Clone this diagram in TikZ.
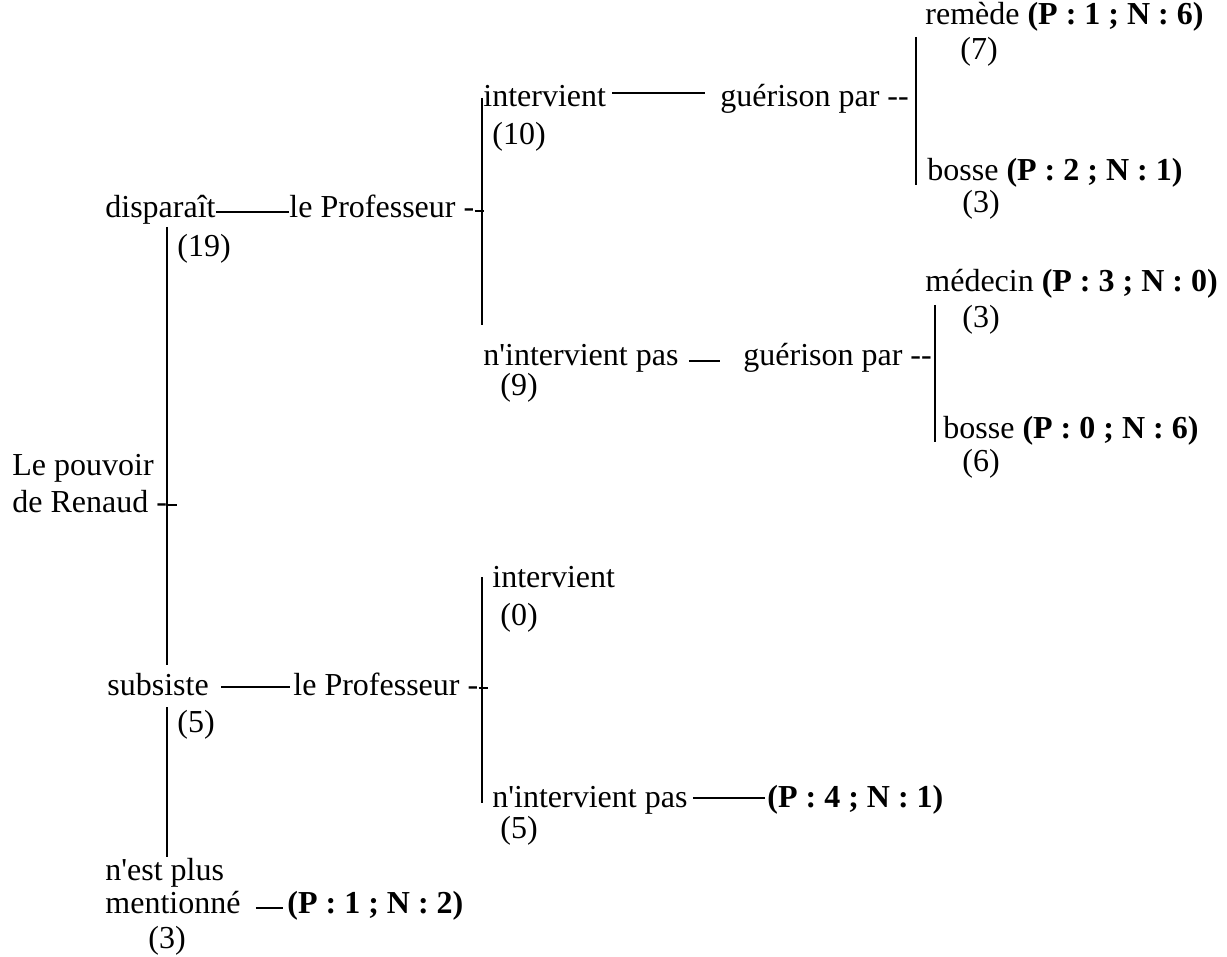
\documentclass[tikz,border=0pt]{standalone}
\usepackage{fontspec}
\setmainfont{Liberation Serif}[Ligatures=TeXOff]
\usetikzlibrary{calc}

\begin{document}
\begin{tikzpicture}[x=0.5pt,y=-0.5pt,lbl/.style={anchor=base west,inner sep=0pt,font=\fontsize{16}{18}\selectfont},br/.style={line width=1.4pt}]
	\useasboundingbox (0,0) rectangle (1227,957);
	\node[lbl] (LP1) at (12,475) {Le pouvoir};
	\node[lbl] (LP2) at (12,512) {de Renaud -};
	\node[lbl] (dis) at (105,218) {disparaît};
	\node[lbl] (C19) at (177,257) {(19)};
	\node[lbl] (prof1) at (289,218) {le Professeur -};
	\node[lbl] (int1) at (483,107) {intervient};
	\node[lbl] (C10) at (492,145) {(10)};
	\node[lbl] (gue1) at (720,107) {guérison par --};
	\node[lbl] (rem) at (925,25) {remède \textbf{(P : 1 ; N : 6)}};
	\node[lbl] (C7) at (960,60) {(7)};
	\node[lbl] (bos1) at (927,181) {bosse \textbf{(P : 2 ; N : 1)}};
	\node[lbl] (C3a) at (962,213) {(3)};
	\node[lbl] (nint1) at (483,365) {n'intervient pas};
	\node[lbl] (C9) at (500,395) {(9)};
	\node[lbl] (gue2) at (743,365) {guérison par --};
	\node[lbl] (med) at (925,292) {médecin \textbf{(P : 3 ; N : 0)}};
	\node[lbl] (C3b) at (962,328) {(3)};
	\node[lbl] (bos2) at (943,438) {bosse \textbf{(P : 0 ; N : 6)}};
	\node[lbl] (C6) at (962,472) {(6)};
	\node[lbl] (sub) at (107,695) {subsiste};
	\node[lbl] (C5a) at (177,732) {(5)};
	\node[lbl] (prof2) at (293,695) {le Professeur -};
	\node[lbl] (int2) at (492,587) {intervient};
	\node[lbl] (C0) at (500,625) {(0)};
	\node[lbl] (nint2) at (492,807) {n'intervient pas};
	\node[lbl] (C5b) at (500,838) {(5)};
	\node[lbl] (res2) at (767,807) {\textbf{(P : 4 ; N : 1)}};
	\node[lbl] (nest) at (105,880) {n'est plus};
	\node[lbl] (ment) at (105,913) {mentionné};
	\node[lbl] (C3c) at (148,948) {(3)};
	\node[lbl] (res1) at (287,913) {\textbf{(P : 1 ; N : 2)}};
	\draw[br] ([shift={(62,9)}]dis.base west) -- ([shift={(60,-30)}]sub.base west);
	\draw[br] ([shift={(60,12)}]sub.base west) -- ([shift={(62,-23)}]nest.base west);
	\draw[br] ([yshift=3.5pt]LP2.base east) -- ++(10,0);
	\draw[br] ([yshift=3pt]dis.base east) -- ([yshift=3pt]prof1.base west);
	\draw[br] ([xshift=6pt,yshift=4pt]sub.base east) -- ([xshift=-1.5pt,yshift=4pt]prof2.base west);
	\draw[br] ([shift={(-1,-9)}]int1.base west) -- ([shift={(-1,-40)}]nint1.base west);
	\draw[br] ([yshift=3.5pt]prof1.base east) -- ++(9,0);
	\draw[br] ([shift={(-10,-10)}]int2.base west) -- ([shift={(-10,-4)}]nint2.base west);
	\draw[br] ([yshift=3.5pt]prof2.base east) -- ++(9,0);
	\draw[br] ([xshift=3pt,yshift=7pt]int1.base east) -- ([xshift=-7.5pt,yshift=7pt]gue1.base west);
	\draw[br] ([xshift=5pt,yshift=2pt]nint1.base east) -- ([xshift=-11.5pt,yshift=2pt]gue2.base west);
	\draw[br] ([xshift=2.5pt,yshift=4.5pt]nint2.base east) -- ([xshift=-1pt,yshift=4.5pt]res2.base west);
	\draw[br] ([xshift=7.5pt,yshift=2.5pt]ment.base east) -- ([xshift=-2pt,yshift=2.5pt]res1.base west);
	\draw[br] ([shift={(-9,12)}]rem.base west) -- ([shift={(-11,4)}]bos1.base west);
	\draw[br] ([shift={(10,13)}]med.base west) -- ([shift={(-8,4)}]bos2.base west);
\end{tikzpicture}
\end{document}
